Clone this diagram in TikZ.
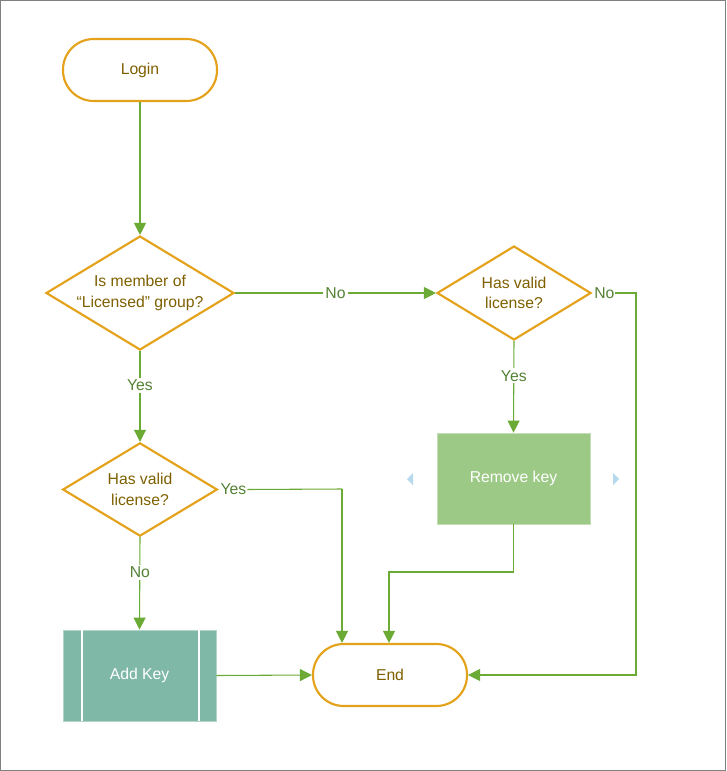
\documentclass[tikz,border=0pt]{standalone}
\usepackage{fontspec}
\setmainfont{Liberation Sans}
\usetikzlibrary{shapes.geometric,arrows.meta}
\definecolor{ornge}{HTML}{E3A21A}
\definecolor{txtbrown}{HTML}{7F6000}
\definecolor{lnk}{HTML}{6BAA35}
\definecolor{lbl}{HTML}{548235}
\definecolor{rmfill}{HTML}{9DC986}
\definecolor{addfill}{HTML}{80B8A8}
\definecolor{tri}{HTML}{B7D9EE}
\definecolor{frame}{HTML}{808080}
\begin{document}
\begin{tikzpicture}[x=0.75pt,y=-0.75pt,
  every node/.style={font=\fontsize{11.8}{15.5}\selectfont},
  term/.style={draw=ornge,line width=1.6pt,fill=white,rectangle,rounded corners=23pt,
    minimum width=115.5pt,minimum height=46.5pt,text=txtbrown,inner sep=0pt},
  decide/.style={draw=ornge,line width=1.6pt,fill=white,diamond,inner sep=0pt,
    text=txtbrown,align=center,aspect=1.65},
  conn/.style={draw=lnk,line width=0.8pt,-{Triangle[length=9pt,width=9pt]}},
  plain/.style={draw=lnk,line width=0.8pt},
  lab/.style={text=lbl,fill=white,inner sep=1.5pt}
]
\useasboundingbox (0,0) rectangle (726,771);
\draw[frame,line width=0.75pt] (0.5,0.5) rectangle (725.5,770.5);

\node[term] (login) at (140,70) {Login};
\node[decide,minimum width=141pt,minimum height=85.5pt] (d1) at (140,293) {Is member of\\“Licensed” group?};
\node[decide,minimum width=115.5pt,minimum height=70.5pt] (d2) at (514,293) {Has valid\\license?};
\node[decide,minimum width=116pt,minimum height=70pt] (d3) at (140,489.5) {Has valid\\license?};
\node[rectangle,fill=rmfill,draw=rmfill!60!white,line width=0.6pt,minimum width=114.75pt,minimum height=68.25pt,
  text=white,inner sep=0pt] (rm) at (513.5,478.5) {Remove key};
\node[rectangle,fill=addfill,draw=addfill!60!white,line width=0.6pt,minimum width=114.75pt,minimum height=68.25pt,
  text=white,inner sep=0pt] (add) at (139.5,675.5) {Add Key};
\node[term] (end) at (390,675) {End};

% sub-process bars
\coordinate (a1) at (82,630); \coordinate (a2) at (82,721);
\coordinate (a3) at (199,630); \coordinate (a4) at (199,721);
\draw[white,line width=1.3pt] (a1) -- (a2);
\draw[white,line width=1.3pt] (a3) -- (a4);

% small triangles
\coordinate (tl) at (410,479); \coordinate (tr) at (616,479);
\fill[tri] (tl) ++(-3,0) -- ++(6,-6) -- ++(0,12) -- cycle;
\fill[tri] (tr) ++(3,0) -- ++(-6,-6) -- ++(0,12) -- cycle;

% connectors
\draw[conn] (login.south) -- (d1.north);
\draw[conn] (d1.east) -- node[lab]{No} (d2.west);
\draw[conn] (d1.south) -- node[lab,pos=0.38]{Yes} (d3.north);
\draw[conn] (d2.south) -- node[lab,pos=0.38]{Yes} (rm.north);
\draw[conn] (d3.south) -- node[lab,pos=0.38]{No} (add.north);
\draw[conn] (add.east) -- (end.west);

\node[lab,anchor=west,inner sep=0.5pt] (no2) at ([xshift=1]d2.east) {No};
\coordinate (c1) at (636,293);
\coordinate (c2) at (636,675);
\draw[conn] (no2.east) -- (c1) -- (c2) -- (end.east);

\node[lab,anchor=west,inner sep=0.5pt] (yes3) at ([xshift=1]d3.east) {Yes};
\coordinate (c3) at (342,489);
\draw[plain] (yes3.east) -- (c3);
\draw[conn] (c3) -- (c3 |- end.north west) ;

\coordinate (c5) at (513.5,572);
\coordinate (c6) at (389,572);
\draw[conn] (rm.south) -- (c5) -- (c6) -- (c6 |- end.north);
\end{tikzpicture}
\end{document}
